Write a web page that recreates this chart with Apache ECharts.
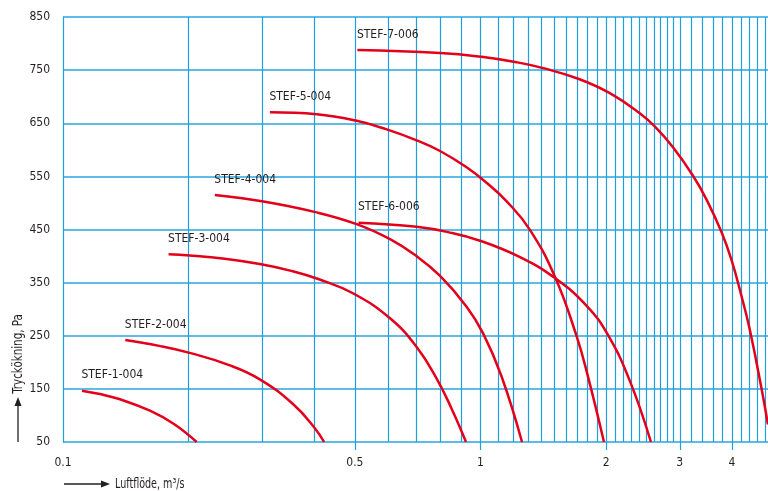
<!DOCTYPE html>
<html><head><meta charset="utf-8">
<script src="https://cdn.jsdelivr.net/npm/echarts@6/dist/echarts.min.js"></script>
<style>html,body{margin:0;padding:0;background:#fff}#c{width:768px;height:491px}</style>
</head><body><div id="c"></div>
<script>
// ---- data ----
const seriesNames = ['STEF-1-004','STEF-2-004','STEF-3-004','STEF-4-004','STEF-5-004','STEF-6-006','STEF-7-006'];
const stef1 = [[0.111,146.6],[0.1226,140.2],[0.137,130.4],[0.1615,108.9],[0.184,84.4],[0.209,50]];
const stef2 = [[0.141,242],[0.171,230.5],[0.201,217.7],[0.25,194.8],[0.296,168],[0.356,121],[0.401,76],[0.422,50]];
const stef3 = [[0.179,403.3],[0.201,401.1],[0.244,394.8],[0.296,384.9],[0.350,372.6],[0.412,355.9],[0.496,329.5],[0.607,282.8],[0.703,228.8],[0.785,169.5],[0.853,112.3],[0.923,50]];
const stef4 = [[0.231,514.9],[0.302,502.7],[0.405,482.2],[0.505,460],[0.607,431.7],[0.697,401.8],[0.80,362.5],[0.926,304.7],[1.015,253.9],[1.123,173.3],[1.257,50]];
const stef5 = [[0.313,670.6],[0.405,667],[0.505,654.6],[0.596,638.4],[0.703,617.9],[0.80,597.8],[0.926,567.1],[1.034,537.9],[1.155,503.1],[1.313,449.4],[1.507,361.2],[1.699,248.8],[1.811,171.2],[1.975,50]];
const stef6 = [[0.510,462.8],[0.703,455.1],[0.836,445.1],[0.997,428.9],[1.243,398],[1.507,358.5],[1.795,306.4],[2.022,250.5],[2.279,164.6],[2.559,50]];
const stef7 = [[0.507,787.9],[0.80,782.4],[1.015,774.7],[1.22,764.9],[1.413,753.8],[1.714,733.7],[2.04,706.6],[2.41,668.4],[2.62,643.1],[2.89,604.7],[3.23,550.7],[3.48,505.7],[3.78,444.3],[3.99,392.6],[4.21,326.7],[4.417,260.3],[4.71,150.1],[4.877,83.1]];
const xTickLabels = [0.1,0.5,1,2,3,4];
const xTickMarks = [0.5,1,2,3,4];
const xGridValues = [0.2,0.3,0.4,0.5,0.6,0.7,0.8,0.9,1.0,1.1,1.2,1.3,1.4,1.5,1.6,1.7,1.8,1.9,2.0,2.1,2.2,2.3,2.4,2.5,2.6,2.7,2.8,2.9,3.0,3.2,3.4,3.6,3.8,4.0,4.2,4.4,4.6,4.8];
const yTickLabels = [50,150,250,350,450,550,650,750,850];
const xAxisTitle = 'Luftflöde, m³/s';
const yAxisTitle = 'Tryckökning, Pa';
// ---- chart ----
const FONT = "'DejaVu Sans Condensed','Liberation Sans Narrow',sans-serif";
const BLUE = '#1f9fdc';
const RED = '#e3001b';
const TXT = '#231f20';
const allSeries = [stef1,stef2,stef3,stef4,stef5,stef6,stef7];
const chart = echarts.init(document.getElementById('c'), null, {renderer:'canvas'});
chart.setOption({
  animation:false,
  backgroundColor:'#fff',
  grid:{left:63, right:0, top:17, bottom:49, outerBoundsMode:'none', containLabel:false},
  xAxis:[
    {type:'log', logBase:10, min:0.1, max:4.88, position:'top',
     axisLine:{show:false}, axisLabel:{show:false},
     axisTick:{show:false, customValues:xGridValues},
     splitLine:{show:true, lineStyle:{color:BLUE, width:1.2}}},
    {type:'log', logBase:10, min:0.1, max:4.88, position:'bottom',
     axisLine:{show:false},
     axisTick:{show:true, length:8, customValues:xTickMarks, lineStyle:{color:BLUE, width:1.2}},
     axisLabel:{show:true, customValues:xTickLabels, margin:15, fontFamily:FONT, fontSize:12, color:TXT,
       formatter:(v)=>String(+v.toFixed(2))},
     splitLine:{show:false}}
  ],
  yAxis:{type:'value', min:50, max:850, interval:100,
    axisLine:{show:true, lineStyle:{color:BLUE, width:1.2}},
    axisTick:{show:false},
    axisLabel:{margin:13, fontFamily:FONT, fontSize:12, color:TXT,
      customValues:yTickLabels},
    splitLine:{show:true, lineStyle:{color:'#2aa6df', width:1.5}}},
  series: allSeries.map((d,i)=>({
    type:'line', name:seriesNames[i], xAxisIndex:1, data:d, smooth:0.45,
    symbol:'none', clip:true,
    lineStyle:{color:RED, width:2.5},
    markPoint:{symbol:'circle', symbolSize:1, itemStyle:{color:'rgba(0,0,0,0)'},
      silent:true,
      label:{show:true, position:[0,-21], formatter:seriesNames[i], fontFamily:FONT, fontSize:12, color:TXT},
      data:[{coord:d[0]}]}
  })),
  graphic:[
    {type:'text', x:18, y:354, rotation:Math.PI/2, scaleX:0.82,
     style:{text:yAxisTitle, fontFamily:FONT, fontSize:14, fill:TXT, align:'center', verticalAlign:'middle'}},
    {type:'line', shape:{x1:18, y1:442, x2:18, y2:404}, style:{stroke:TXT, lineWidth:1.3}},
    {type:'polygon', shape:{points:[[18,397],[14.5,406],[21.5,406]]}, style:{fill:TXT}},
    {type:'line', shape:{x1:64, y1:484, x2:103, y2:484}, style:{stroke:TXT, lineWidth:1.3}},
    {type:'polygon', shape:{points:[[110,484],[101,480.5],[101,487.5]]}, style:{fill:TXT}},
    {type:'text', x:115, y:484, scaleX:0.76,
     style:{text:xAxisTitle, fontFamily:FONT, fontSize:14, fill:TXT, align:'left', verticalAlign:'middle'}}
  ]
});
</script></body></html>
